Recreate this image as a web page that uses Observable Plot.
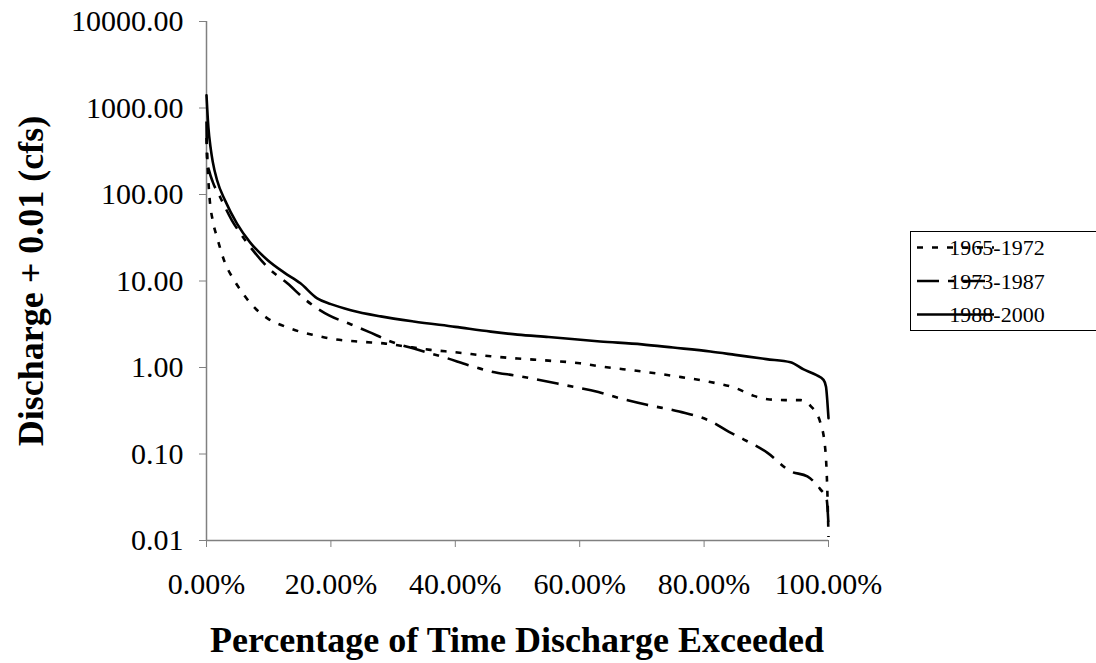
<!DOCTYPE html>
<html>
<head>
<meta charset="utf-8">
<script src="https://cdn.jsdelivr.net/npm/d3@7"></script>
<script src="https://cdn.jsdelivr.net/npm/@observablehq/plot@0.6"></script>
<style>
  html, body { margin: 0; padding: 0; background: #fff; }
  svg { display: block; }
</style>
</head>
<body>
<div id="chart"></div>
<script>
// Percentage of time exceeded (%)
const pct6572 = [0, 0.2, 0.5, 1.0, 1.7, 2.8, 4.4, 5.5, 7.1, 9.8, 12.5, 15, 17.5, 20, 25, 28.5, 32, 36, 40, 45.7, 50, 55, 60, 63.3, 70, 75, 81, 85, 88, 90.2, 93, 95.5, 97.1, 98.7, 99.5, 99.8, 100];
const q6572   = [450, 200, 90, 50, 32, 17.5, 10.3, 7.8, 5.5, 3.7, 3.0, 2.6, 2.35, 2.15, 1.98, 1.9, 1.75, 1.6, 1.5, 1.35, 1.27, 1.2, 1.12, 1.03, 0.9, 0.8, 0.68, 0.58, 0.47, 0.43, 0.42, 0.42, 0.36, 0.23, 0.11, 0.04, 0.011];

const pct7387 = [0, 0.1, 0.5, 1, 2.3, 4.1, 5.5, 7.6, 10, 13, 16, 19.7, 23, 26, 29.6, 34, 38.7, 42, 45.7, 50, 57.4, 63, 66, 70.8, 76, 81, 84, 86.4, 90.2, 93.9, 96.6, 98.7, 99.7, 100];
const q7387   = [700, 250, 180, 140, 90, 50, 35, 22, 14, 9.4, 6, 4.0, 3.2, 2.6, 2.0, 1.6, 1.28, 1.07, 0.9, 0.8, 0.63, 0.52, 0.45, 0.37, 0.31, 0.24, 0.18, 0.147, 0.103, 0.063, 0.055, 0.039, 0.03, 0.015];

const pct8800 = [0, 0.3, 0.7, 1.0, 1.7, 3, 4.9, 7, 9.8, 12.5, 15.1, 17.8, 20, 23.2, 28, 33.3, 40, 45.7, 50, 55, 63.3, 70, 75, 81, 85, 90, 93.9, 96, 98, 99.2, 99.6, 99.8, 100];
const q8800   = [1400, 600, 330, 240, 146, 85, 46, 28, 17.5, 12.5, 9.4, 6.3, 5.4, 4.6, 3.9, 3.4, 2.95, 2.6, 2.4, 2.25, 2.0, 1.85, 1.7, 1.53, 1.4, 1.25, 1.15, 0.95, 0.82, 0.72, 0.6, 0.42, 0.26];

const seriesNames = ["1965-1972", "1973-1987", "1988-2000"];
const xTicks = [0, 20, 40, 60, 80, 100];
const yTicks = [0.01, 0.1, 1, 10, 100, 1000, 10000];
const xTitle = "Percentage of Time Discharge Exceeded";
const yTitle = "Discharge + 0.01 (cfs)";

const toRows = (p, q) => p.map((d, i) => ({x: d, y: q[i]}));
const s1 = toRows(pct6572, q6572);
const s2 = toRows(pct7387, q7387);
const s3 = toRows(pct8800, q8800);

const dash1 = "6,9";
const dash2 = "22,9,6,9";
const lw = 2.6;
const FONT = "'Liberation Serif', 'Times New Roman', serif";

const chart = Plot.plot({
  width: 1096,
  height: 663,
  marginLeft: 206,
  marginRight: 268,
  marginTop: 21,
  marginBottom: 123,
  style: {fontFamily: FONT, fontSize: "30px", color: "#000", background: "#fff", overflow: "visible"},
  x: {domain: [0, 100]},
  y: {type: "log", domain: [0.01, 10000]},
  marks: [
    Plot.axisX({ticks: xTicks, tickFormat: d => d.toFixed(2) + "%", tickSize: 7, tickPadding: 25, stroke: "#808080", fill: "#000", fontSize: 30, label: null}),
    Plot.axisY({ticks: yTicks, tickFormat: d => d.toFixed(2), tickSize: 7, tickPadding: 16, stroke: "#808080", fill: "#000", fontSize: 30, label: null}),
    Plot.ruleX([0], {stroke: "#808080", strokeWidth: 1.5}),
    Plot.ruleY([0.01], {stroke: "#808080", strokeWidth: 1.5}),
    Plot.line(s1, {x: "x", y: "y", stroke: "#000", strokeWidth: lw, strokeDasharray: dash1, strokeLinecap: "butt", curve: "monotone-x"}),
    Plot.line(s2, {x: "x", y: "y", stroke: "#000", strokeWidth: lw, strokeDasharray: dash2, strokeLinecap: "butt", curve: "monotone-x"}),
    Plot.line(s3, {x: "x", y: "y", stroke: "#000", strokeWidth: lw, curve: "monotone-x"})
  ]
});

document.getElementById("chart").appendChild(chart);

const svg = d3.select(chart);

// Axis titles
svg.append("text")
  .attr("x", 517).attr("y", 652)
  .attr("text-anchor", "middle")
  .style("font-family", FONT).style("font-size", "36px").style("font-weight", "bold")
  .attr("fill", "#000")
  .text(xTitle);

svg.append("text")
  .attr("transform", "translate(43,281) rotate(-90)")
  .attr("text-anchor", "middle")
  .style("font-family", FONT).style("font-size", "36px").style("font-weight", "bold")
  .attr("fill", "#000")
  .text(yTitle);

// Legend
const lg = svg.append("g");
lg.append("rect")
  .attr("x", 910.5).attr("y", 231.5).attr("width", 200).attr("height", 99)
  .attr("fill", "#fff").attr("stroke", "#000").attr("stroke-width", 1);
const rowsY = [247.5, 281, 314.5];
const dashes = [dash1, dash2, null];
seriesNames.forEach((name, i) => {
  const ln = lg.append("line")
    .attr("x1", 917).attr("x2", 994).attr("y1", rowsY[i]).attr("y2", rowsY[i])
    .attr("stroke", "#000").attr("stroke-width", lw);
  if (dashes[i]) ln.attr("stroke-dasharray", dashes[i]);
  lg.append("text")
    .attr("x", 997).attr("y", rowsY[i]).attr("dy", "0.35em")
    .style("font-family", FONT).style("font-size", "22px")
    .attr("fill", "#000")
    .text(name);
});
</script>
</body>
</html>
